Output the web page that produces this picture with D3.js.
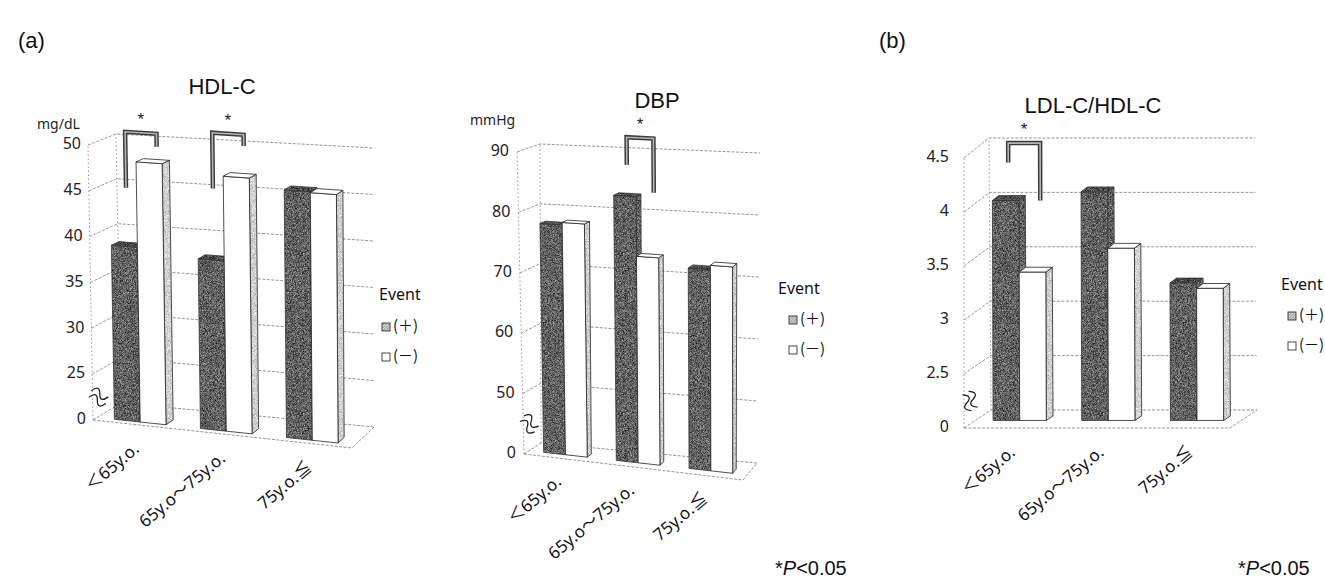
<!DOCTYPE html>
<html>
<head>
<meta charset="utf-8">
<script src="https://cdn.jsdelivr.net/npm/d3@7"></script>
<style>
  body { margin: 0; background: #fff; }
  svg { display: block; }
</style>
</head>
<body>
<svg id="chart" width="1325" height="582"></svg>
<script>
// ---- data ----
const categories = ["＜65y.o.", "65y.o～75y.o.", "75y.o.≦"];
const seriesKeys = ["pos", "neg"];
const seriesLabels = ["(＋)", "(－)"];

const hdlEventPos = [39.0, 38.3, 46.4];
const hdlEventNeg = [48.3, 47.4, 46.3];
const hdlTicks = [20, 25, 30, 35, 40, 45, 50];
const hdlTickLabels = ["0", "25", "30", "35", "40", "45", "50"];

const dbpEventPos = [77.9, 83.3, 72.3];
const dbpEventNeg = [78.3, 73.6, 73.0];
const dbpTicks = [40, 50, 60, 70, 80, 90];
const dbpTickLabels = ["0", "50", "60", "70", "80", "90"];

const ratioEventPos = [4.03, 4.11, 3.27];
const ratioEventNeg = [3.37, 3.59, 3.22];
const ratioTicks = [2, 2.5, 3, 3.5, 4, 4.5];
const ratioTickLabels = ["0", "2.5", "3", "3.5", "4", "4.5"];

// significance brackets: category, left-leg foot, bracket top, right-leg foot (value units)
const hdlBrackets = [
  { cat: 0, left: 45.4, top: 51.5, right: 50.1 },
  { cat: 1, left: 46.0, top: 52.0, right: 50.8 }
];
const dbpBrackets = [{ cat: 1, left: 88.4, top: 92.9, right: 84.1 }];
const ratioBrackets = [{ cat: 0, left: 4.38, top: 4.56, right: 4.03 }];

// ---- layout of each 3-D box (screen corners: Front/Back, Left/Right, Bottom/Top) ----
const panels = [
  {
    title: "HDL-C", titlePos: [222, 88], unit: "mg/dL", unitPos: [37, 125],
    pos: hdlEventPos, neg: hdlEventNeg, ticks: hdlTicks, tickLabels: hdlTickLabels,
    brackets: hdlBrackets,
    box: { FLB: [93, 420], FRB: [352, 448], BLB: [121, 403], BRB: [374, 427],
           FLT: [88, 145], FRT: [350, 163], BLT: [116, 134], BRT: [374, 148] },
    depth: [0.15, 0.42], labelOffset: [4, 26], tickGap: 7, breakAngle: 20,
    legend: { x: 379, y: 296, icon: 382, rows: [327, 357] }
  },
  {
    title: "DBP", titlePos: [657, 102], unit: "mmHg", unitPos: [470, 121],
    pos: dbpEventPos, neg: dbpEventNeg, ticks: dbpTicks, tickLabels: dbpTickLabels,
    brackets: dbpBrackets,
    box: { FLB: [524, 454], FRB: [743, 480], BLB: [541, 443], BRB: [757, 463],
           FLT: [517, 152], FRT: [742, 165], BLT: [540, 144], BRT: [760, 153] },
    depth: [0.3, 0.55], labelOffset: [2, 25], tickGap: 8, breakAngle: 35,
    legend: { x: 778, y: 290, icon: 789, rows: [320, 350] }
  },
  {
    title: "LDL-C/HDL-C", titlePos: [1093, 107], unit: null,
    pos: ratioEventPos, neg: ratioEventNeg, ticks: ratioTicks, tickLabels: ratioTickLabels,
    brackets: ratioBrackets,
    box: { FLB: [964, 428], FRB: [1230, 428], BLB: [991, 410], BRB: [1257, 410],
           FLT: [964, 158], FRT: [1230, 158], BLT: [989, 138], BRT: [1255, 138] },
    depth: [0.42, 0.67], labelOffset: [8, 26], tickGap: 15, breakAngle: 60,
    legend: { x: 1281, y: 286, icon: 1288, rows: [316, 346] }
  }
];

const svg = d3.select("#chart");
const defs = svg.append("defs");

// grainy fills for the printed bar faces
function grain(id, k, c, freq, seed) {
  const f = defs.append("filter").attr("id", id)
    .attr("x", 0).attr("y", 0).attr("width", 1).attr("height", 1)
    .attr("color-interpolation-filters", "sRGB");
  f.append("feTurbulence").attr("type", "fractalNoise")
    .attr("baseFrequency", freq).attr("numOctaves", 1).attr("seed", seed).attr("result", "noise");
  f.append("feColorMatrix").attr("in", "noise").attr("type", "matrix")
    .attr("values", `${k} 0 0 0 ${c}  ${k} 0 0 0 ${c}  ${k} 0 0 0 ${c}  0 0 0 0 1`)
    .attr("result", "tone");
  f.append("feComposite").attr("in", "tone").attr("in2", "SourceAlpha").attr("operator", "in");
}
grain("darkGrain", 1.0, -0.12, 1.6, 4);
grain("darkTopGrain", 0.9, -0.15, 1.6, 9);
grain("sideGrain", 0.6, 0.52, 1.6, 2);

const hatch = defs.append("pattern").attr("id", "hatch")
  .attr("width", 2).attr("height", 2).attr("patternUnits", "userSpaceOnUse")
  .attr("patternTransform", "rotate(45)");
hatch.append("rect").attr("width", 2).attr("height", 2).attr("fill", "#ddd");
hatch.append("line").attr("x1", 0).attr("y1", 0).attr("x2", 0).attr("y2", 2)
  .attr("stroke", "#555").attr("stroke-width", 1);

const latin = "'Noto Sans', 'Open Sans', 'Noto Sans CJK JP', sans-serif";
const arial = "'Liberation Sans', Arial, sans-serif";

function projector(c) {
  const lerp = (a, b, t) => [a[0] + (b[0] - a[0]) * t, a[1] + (b[1] - a[1]) * t];
  return (u, w, v) => {
    const fb = lerp(c.FLB, c.FRB, u), bb = lerp(c.BLB, c.BRB, u);
    const ft = lerp(c.FLT, c.FRT, u), bt = lerp(c.BLT, c.BRT, u);
    return lerp(lerp(fb, bb, w), lerp(ft, bt, w), v);
  };
}
const line = d3.line();

panels.forEach(p => {
  const g = svg.append("g");
  const P = projector(p.box);
  const yScale = d3.scaleLinear().domain(d3.extent(p.ticks)).range([0, 1]);
  const xBand = d3.scaleBand().domain(categories).range([0, 1])
    .paddingInner(0.4).paddingOuter(0.2);
  const sBand = d3.scaleBand().domain(seriesKeys).range([0, xBand.bandwidth()]);
  const [w0, w1] = p.depth;

  // walls and floor
  const grid = g.append("g").attr("fill", "none").attr("stroke", "#8a8a8a")
    .attr("stroke-width", 0.9).attr("stroke-dasharray", "3,1.5");
  p.ticks.forEach(t => {
    const v = yScale(t);
    grid.append("path").attr("d", line([P(0, 0, v), P(0, 1, v), P(1, 1, v)]));
  });
  grid.append("path").attr("d", line([P(0, 0, 0), P(1, 0, 0), P(1, 1, 0)]));
  grid.append("path").attr("d", line([P(0, 0, 0), P(0, 0, 1)])).attr("stroke-dasharray", "1.5,2.5");
  grid.append("path").attr("d", line([P(0, 1, 0), P(0, 1, 1)])).attr("stroke-dasharray", "1.5,2.5");

  // tick labels
  g.append("g").selectAll("text").data(p.ticks).join("text")
    .attr("x", t => P(0, 0, yScale(t))[0] - p.tickGap)
    .attr("y", t => P(0, 0, yScale(t))[1])
    .attr("text-anchor", "end").attr("dominant-baseline", "middle")
    .attr("font-family", latin).attr("font-size", 16).attr("fill", "#222")
    .text((t, i) => p.tickLabels[i]);

  // axis break mark between the floor and the first labelled tick
  const bv = (yScale(p.ticks[0]) + yScale(p.ticks[1])) / 2;
  const bp = P(0, 0, bv);
  const brk = g.append("g")
    .attr("transform", `translate(${bp[0] + 6},${bp[1]}) rotate(${p.breakAngle})`)
    .attr("fill", "none").attr("stroke", "#222").attr("stroke-width", 1.3);
  [-3.5, 3.5].forEach(dy => {
    brk.append("path").attr("d", `M-9,${dy} C-5,${dy - 6} -2,${dy - 6} 0,${dy} S5,${dy + 6} 9,${dy}`);
  });

  // bars, painted left to right so each side face sits behind its neighbour
  const bars = [];
  categories.forEach((cat, ci) => {
    seriesKeys.forEach((s, si) => {
      const u0 = xBand(cat) + sBand(s);
      bars.push({ u0, u1: u0 + sBand.bandwidth(), v: yScale(p[s][ci]), dark: si === 0 });
    });
  });
  const barG = g.append("g").attr("stroke-linejoin", "round");
  bars.forEach(b => {
    const front = [P(b.u0, w0, 0), P(b.u1, w0, 0), P(b.u1, w0, b.v), P(b.u0, w0, b.v)];
    const side = [P(b.u1, w0, 0), P(b.u1, w1, 0), P(b.u1, w1, b.v), P(b.u1, w0, b.v)];
    const top = [P(b.u0, w0, b.v), P(b.u1, w0, b.v), P(b.u1, w1, b.v), P(b.u0, w1, b.v)];
    const face = (pts, filter, fill) => {
      const d = line(pts) + "Z";
      if (filter) barG.append("path").attr("d", d).attr("fill", "#000").attr("filter", `url(#${filter})`);
      else barG.append("path").attr("d", d).attr("fill", fill);
      barG.append("path").attr("d", d).attr("fill", "none")
        .attr("stroke", b.dark ? "#333" : "#222").attr("stroke-width", 0.8);
    };
    if (b.dark) {
      face(side, "darkGrain");
      face(front, "darkGrain");
      face(top, "darkTopGrain");
    } else {
      face(side, "sideGrain");
      face(front, null, "#fff");
      face(top, null, "#fff");
    }
  });

  // significance brackets
  p.brackets.forEach(br => {
    const c = categories[br.cat];
    const uL = xBand(c) + xBand.bandwidth() * 0.3;
    const uR = xBand(c) + xBand.bandwidth() * 0.9;
    const pts = [P(uL, w0, yScale(br.left)), P(uL, w0, yScale(br.top)),
                 P(uR, w0, yScale(br.top)), P(uR, w0, yScale(br.right))];
    g.append("path").attr("d", line(pts)).attr("fill", "none")
      .attr("stroke", "#3a3a3a").attr("stroke-width", 4.5).attr("stroke-linejoin", "miter");
    g.append("path").attr("d", line(pts)).attr("fill", "none")
      .attr("stroke", "#b5b5b5").attr("stroke-width", 1.6).attr("stroke-linejoin", "miter");
    const mid = [(pts[1][0] + pts[2][0]) / 2, (pts[1][1] + pts[2][1]) / 2];
    g.append("text").attr("x", mid[0]).attr("y", mid[1] - 8)
      .attr("text-anchor", "middle").attr("font-family", arial).attr("font-size", 17)
      .attr("fill", "#222").text("*");
  });

  // category labels
  g.append("g").selectAll("text").data(categories).join("text")
    .attr("transform", c => {
      const q = P(xBand(c) + xBand.bandwidth() / 2, 0, 0);
      return `translate(${q[0] + p.labelOffset[0]},${q[1] + p.labelOffset[1]}) rotate(-40)`;
    })
    .attr("text-anchor", "end")
    .attr("font-family", latin).attr("font-size", 17).attr("fill", "#111")
    .text(c => c);

  // title and unit
  g.append("text").attr("x", p.titlePos[0]).attr("y", p.titlePos[1])
    .attr("text-anchor", "middle").attr("dominant-baseline", "middle")
    .attr("font-family", arial).attr("font-size", 22).attr("fill", "#111").text(p.title);
  if (p.unit) {
    g.append("text").attr("x", p.unitPos[0]).attr("y", p.unitPos[1])
      .attr("dominant-baseline", "middle")
      .attr("font-family", latin).attr("font-size", 14).attr("fill", "#222").text(p.unit);
  }

  // legend
  const lg = g.append("g");
  lg.append("text").attr("x", p.legend.x).attr("y", p.legend.y)
    .attr("dominant-baseline", "middle").attr("font-family", latin)
    .attr("font-size", 16).attr("fill", "#111").text("Event");
  seriesLabels.forEach((lab, i) => {
    const y = p.legend.rows[i];
    lg.append("rect").attr("x", p.legend.icon).attr("y", y - 4).attr("width", 8).attr("height", 8)
      .attr("fill", i === 0 ? "url(#hatch)" : "#fff").attr("stroke", "#333").attr("stroke-width", 0.9);
    lg.append("text").attr("x", p.legend.icon + 11).attr("y", y)
      .attr("dominant-baseline", "middle").attr("font-family", "'Noto Sans CJK JP', sans-serif")
      .attr("font-size", 15).attr("fill", "#111").text(lab);
  });
});

// panel letters
svg.append("text").attr("x", 18).attr("y", 42).attr("dominant-baseline", "middle")
  .attr("font-family", arial).attr("font-size", 22).attr("fill", "#111").text("(a)");
svg.append("text").attr("x", 879).attr("y", 42).attr("dominant-baseline", "middle")
  .attr("font-family", arial).attr("font-size", 22).attr("fill", "#111").text("(b)");

// significance notes
[775, 1238].forEach(x => {
  const t = svg.append("text").attr("x", x).attr("y", 575)
    .attr("font-family", arial).attr("font-size", 20).attr("fill", "#111");
  t.append("tspan").text("*");
  t.append("tspan").attr("font-style", "italic").text("P");
  t.append("tspan").text("<0.05");
});
</script>
</body>
</html>
